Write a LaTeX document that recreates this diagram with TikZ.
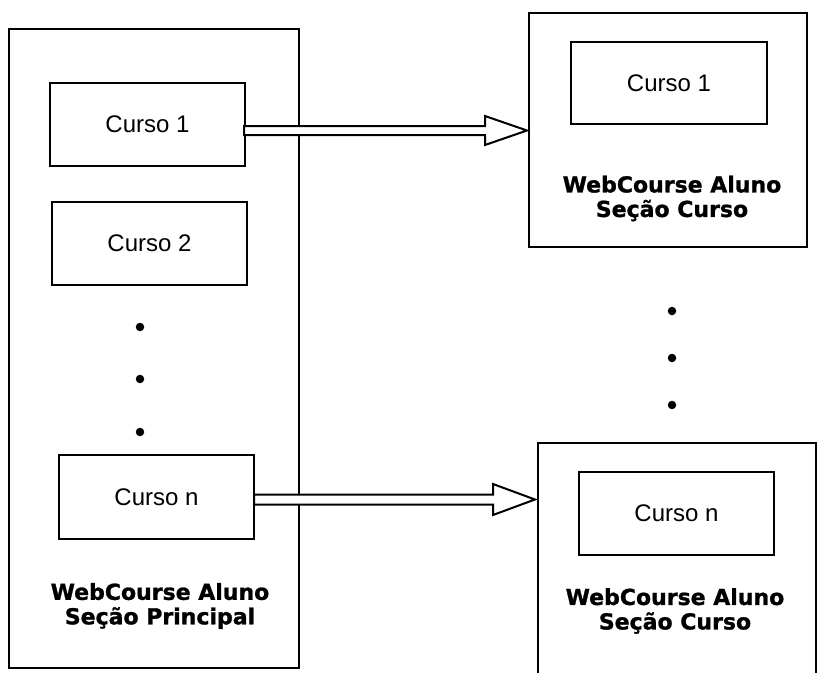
\documentclass[tikz,border=0pt]{standalone}
\usepackage{fontspec}
\setmainfont{Liberation Sans}
\newfontfamily\lblfont{DejaVu Sans}[BoldFeatures={FakeBold=1.2}]
\usetikzlibrary{calc}
\tikzset{
  box/.style={draw=black, line width=2pt, inner sep=0pt, fill=none},
  cursobox/.style={box, minimum width=195pt, minimum height=83pt, font=\fontsize{24}{28}\selectfont},
  lbl/.style={align=center, inner sep=0pt, font=\lblfont\bfseries\fontsize{22}{24.5}\selectfont},
  hollow/.style={draw=black, line width=2pt, fill=white, line join=miter},
  dotmark/.style={circle, fill=black, inner sep=0pt, minimum size=8.5pt}
}
\begin{document}
\begin{tikzpicture}[x=1pt, y=-1pt]
\useasboundingbox (0,0) rectangle (819,672);
\fill[white] (0,0) rectangle (819,672);
\clip (0,0) rectangle (819,672);
% left main box
\node[box, minimum width=290pt, minimum height=639pt] (main) at (154,348.5) {};
\node[cursobox] (c1) at (147.5,124.5) {Curso 1};
\node[cursobox] (c2) at (149.5,243.5) {Curso 2};
\node[cursobox, minimum height=84pt] (cn) at (156.5,497) {Curso n};
\node[dotmark] (ld1) at (140,327) {};
\node[dotmark] (ld2) at (140,379) {};
\node[dotmark] (ld3) at (140,432) {};
\node[lbl] (mainlbl) at (160,606) {WebCourse Aluno\\Seção Principal};
% right top box
\node[box, minimum width=278pt, minimum height=234pt] (rt) at (668,130) {};
\node[cursobox, minimum width=196pt, minimum height=82pt] (r1) at (669,83) {Curso 1};
\node[lbl] (rtlbl) at (672,198.5) {WebCourse Aluno\\Seção Curso};
% dots right
\node[dotmark] (rd1) at (672,311) {};
\node[dotmark] (rd2) at (672,358) {};
\node[dotmark] (rd3) at (672,405) {};
% right bottom box
\node[box, minimum width=278pt, minimum height=260pt] (rb) at (677,573) {};
\node[cursobox] (rn) at (676.5,513.5) {Curso n};
\node[lbl] (rblbl) at (675,611) {WebCourse Aluno\\Seção Curso};
% arrows
\coordinate (a1) at (527,130.5);
\coordinate (a2) at (535,499.5);
\draw[hollow] ($(c1.east |- a1)+(-2,-4.5)$) -- ($(a1)+(-42,-4.5)$) -- ($(a1)+(-42,-14.5)$) -- (a1)
  -- ($(a1)+(-42,14.5)$) -- ($(a1)+(-42,4.5)$) -- ($(c1.east |- a1)+(-2,4.5)$) -- cycle;
\draw[hollow] ($(cn.east |- a2)+(-1,-5)$) -- ($(a2)+(-42,-5)$) -- ($(a2)+(-42,-15.5)$) -- (a2)
  -- ($(a2)+(-42,15.5)$) -- ($(a2)+(-42,5)$) -- ($(cn.east |- a2)+(-1,5)$) -- cycle;
\end{tikzpicture}
\end{document}
